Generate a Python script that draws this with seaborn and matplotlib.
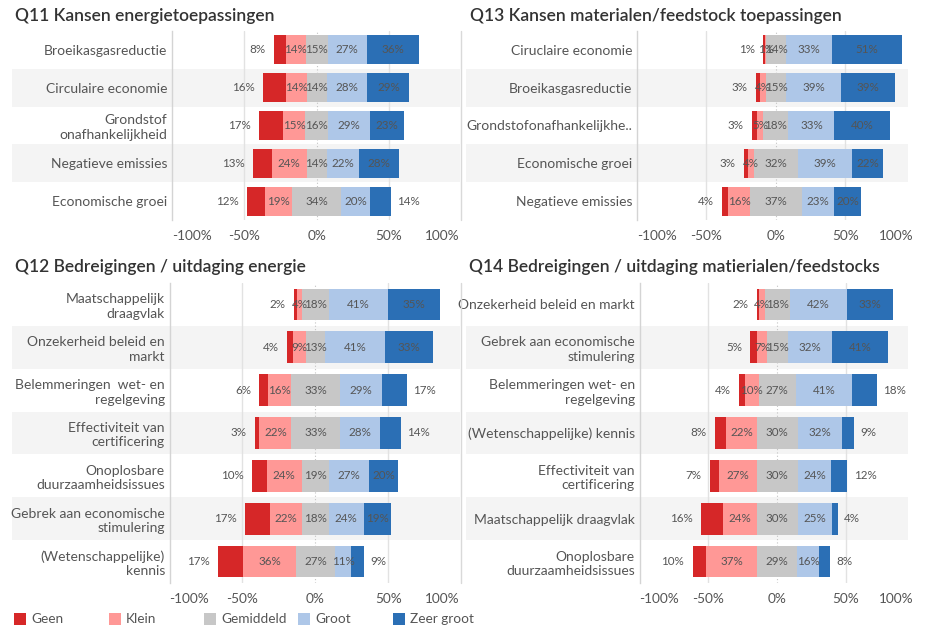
import matplotlib
matplotlib.use("Agg")
import matplotlib.pyplot as plt
import seaborn as sns
import pandas as pd
from matplotlib.patches import Rectangle
from matplotlib.lines import Line2D
from matplotlib.transforms import blended_transform_factory, ScaledTranslation

sns.set_theme(style="white")
plt.rcParams["font.family"] = ["Lato", "DejaVu Sans"]

W, H = 925, 630

levels = ["Geen", "Klein", "Gemiddeld", "Groot", "Zeer groot"]
level_colors = ["#d62728", "#ff9896", "#c7c7c7", "#aec7e8", "#2b6fb5"]
tick_values = [-100, -50, 0, 50, 100]

q11_title = "Q11 Kansen energietoepassingen"
q11_categories = ["Broeikasgasreductie", "Circulaire economie", "Grondstof\nonafhankelijkheid",
                  "Negatieve emissies", "Economische groei"]
q11_geen = [8, 16, 17, 13, 12]
q11_klein = [14, 14, 15, 24, 19]
q11_gemiddeld = [15, 14, 16, 14, 34]
q11_groot = [27, 28, 29, 22, 20]
q11_zeer_groot = [36, 29, 23, 28, 14]

q13_title = "Q13 Kansen materialen/feedstock toepassingen"
q13_categories = ["Ciruclaire economie", "Broeikasgasreductie", "Grondstofonafhankelijkhe..",
                  "Economische groei", "Negatieve emissies"]
q13_geen = [1, 3, 3, 3, 4]
q13_klein = [1, 4, 5, 4, 16]
q13_gemiddeld = [14, 15, 18, 32, 37]
q13_groot = [33, 39, 33, 39, 23]
q13_zeer_groot = [51, 39, 40, 22, 20]

q12_title = "Q12 Bedreigingen / uitdaging energie"
q12_categories = ["Maatschappelijk\ndraagvlak", "Onzekerheid beleid en\nmarkt",
                  "Belemmeringen  wet- en\nregelgeving", "Effectiviteit van\ncertificering",
                  "Onoplosbare\nduurzaamheidsissues", "Gebrek aan economische\nstimulering",
                  "(Wetenschappelijke)\nkennis"]
q12_geen = [2, 4, 6, 3, 10, 17, 17]
q12_klein = [4, 9, 16, 22, 24, 22, 36]
q12_gemiddeld = [18, 13, 33, 33, 19, 18, 27]
q12_groot = [41, 41, 29, 28, 27, 24, 11]
q12_zeer_groot = [35, 33, 17, 14, 20, 19, 9]

q14_title = "Q14 Bedreigingen / uitdaging matierialen/feedstocks"
q14_categories = ["Onzekerheid beleid en markt", "Gebrek aan economische\nstimulering",
                  "Belemmeringen wet- en\nregelgeving", "(Wetenschappelijke) kennis",
                  "Effectiviteit van\ncertificering", "Maatschappelijk draagvlak",
                  "Onoplosbare\nduurzaamheidsissues"]
q14_geen = [2, 5, 4, 8, 7, 16, 10]
q14_klein = [4, 7, 10, 22, 27, 24, 37]
q14_gemiddeld = [18, 15, 27, 30, 30, 30, 29]
q14_groot = [42, 32, 41, 32, 24, 25, 16]
q14_zeer_groot = [33, 41, 18, 9, 12, 4, 8]

TEXT = "#555555"
fig = plt.figure(figsize=(W / 100, H / 100), dpi=100)


def px_axes(x0, x1, y0, y1):
    return fig.add_axes([x0 / W, 1 - y1 / H, (x1 - x0) / W, (y1 - y0) / H])


def draw_panel(title, title_xy, box, band_left, xmax, bar_w, last_tick_shift,
               cats, geen, klein, gem, groot, zeer):
    x0, x1, y0, y1 = box
    ax = px_axes(x0, x1, y0, y1)
    ax.patch.set_visible(False)
    df = pd.DataFrame({"cat": cats, "geen": geen, "klein": klein, "gem": gem,
                       "groot": groot, "zeer": zeer})
    half = df["gem"] / 2
    df["left_geen"] = -(df["geen"] + df["klein"] + half)
    df["left_klein"] = -(df["klein"] + half)
    df["left_gem"] = -half
    df["right_gem"] = half
    df["right_groot"] = half + df["groot"]
    df["right_zeer"] = half + df["groot"] + df["zeer"]
    layers = [("left_geen", 0), ("left_klein", 1), ("left_gem", 2),
              ("right_zeer", 4), ("right_groot", 3), ("right_gem", 2)]
    for col, ci in layers:
        sns.barplot(data=df, x=col, y="cat", order=cats, orient="h",
                    color=level_colors[ci], saturation=1, width=bar_w,
                    linewidth=0, errorbar=None, ax=ax, zorder=2)
    for p in ax.patches:
        p.set_antialiased(False)
    n = len(cats)
    ax.set_ylim(n - 0.5, -0.5)
    ax.set_xlim(-100, xmax)
    ax.set_xlabel("")
    ax.set_ylabel("")

    # row banding (extends into label area)
    bt = blended_transform_factory(ax.transAxes, ax.transData)
    frac = (band_left - x0) / (x1 - x0)
    for i in range(n):
        if i % 2 == 1:
            ax.add_patch(Rectangle((frac, i - 0.5), 1 - frac, 1, transform=bt,
                                   facecolor="#f4f4f4", edgecolor="none",
                                   clip_on=False, zorder=0.2))
    # grid
    for v in (-50, 50):
        ax.axvline(v, color="#e2e2e2", lw=1.0, zorder=0.5)
    ax.axvline(0, color="#c4c4c4", lw=0.8, ls=(0, (1, 2)), zorder=0.5)
    for s in ("top", "right", "bottom"):
        ax.spines[s].set_visible(False)
    ax.spines["left"].set_color("#d4d4d4")
    ax.spines["left"].set_linewidth(1.0)

    # ticks (the 100% label sits at the right edge of the pane)
    shown = [v for v in tick_values if v < 100]
    ax.set_xticks(shown)
    ax.set_xticklabels([f"{v}%" for v in shown])
    ax.tick_params(axis="x", length=0, pad=7, labelsize=9.8, labelcolor=TEXT)
    ax.tick_params(axis="y", length=0, pad=3.3, labelsize=10, labelcolor=TEXT)
    ax.get_xticklabels()[0].set_ha("left")
    tr = ax.transAxes + ScaledTranslation(last_tick_shift / 100, -7 / 72, fig.dpi_scale_trans)
    ax.text(1, 0, f"{tick_values[-1]}%", transform=tr, ha="right", va="top",
            fontsize=9.8, color=TEXT, clip_on=False)
    for lbl in ax.get_yticklabels():
        lbl.set_linespacing(1.25)

    # value labels
    fs = 8.4
    for i, r in df.iterrows():
        ax.annotate(f"{r['geen']}%", (r["left_geen"], i), xytext=(-6, 0),
                    textcoords="offset points", ha="right", va="center",
                    fontsize=fs, color=TEXT, zorder=5)
        ax.text(-(r["klein"] / 2 + r["gem"] / 2), i, f"{r['klein']}%", ha="center",
                va="center", fontsize=fs, color=TEXT, zorder=5)
        ax.text(0, i, f"{r['gem']}%", ha="center", va="center", fontsize=fs,
                color=TEXT, zorder=5)
        ax.text(r["gem"] / 2 + r["groot"] / 2, i, f"{r['groot']}%", ha="center",
                va="center", fontsize=fs, color=TEXT, zorder=5)
        if r["zeer"] >= 19:
            ax.text(r["right_groot"] + r["zeer"] / 2, i, f"{r['zeer']}%", ha="center",
                    va="center", fontsize=fs, color=TEXT, zorder=5)
        else:
            ax.annotate(f"{r['zeer']}%", (r["right_zeer"], i), xytext=(4.5, 0),
                        textcoords="offset points", ha="left", va="center",
                        fontsize=fs, color=TEXT, zorder=5)

    fig.text(title_xy[0] / W, 1 - title_xy[1] / H, title, ha="left", va="center",
             fontsize=12.5, fontweight="semibold", color="#333333")
    return ax


draw_panel(q11_title, (15, 16), (172, 460, 31, 220), 12, 99, 0.77, 0,
           q11_categories, q11_geen, q11_klein, q11_gemiddeld, q11_groot, q11_zeer_groot)
draw_panel(q13_title, (470, 16), (637, 908, 31, 220), 466, 95, 0.77, 6,
           q13_categories, q13_geen, q13_klein, q13_gemiddeld, q13_groot, q13_zeer_groot)
draw_panel(q12_title, (15, 267), (169.5, 460, 283, 583), 12, 99, 0.74, 0,
           q12_categories, q12_geen, q12_klein, q12_gemiddeld, q12_groot, q12_zeer_groot)
draw_panel(q14_title, (469, 267), (639.5, 908, 283, 583), 466, 95, 0.74, 6,
           q14_categories, q14_geen, q14_klein, q14_gemiddeld, q14_groot, q14_zeer_groot)

# panel separators
for ya, yb in ((31, 220), (283, 583)):
    fig.add_artist(Line2D([460.5 / W] * 2, [1 - ya / H, 1 - yb / H], color="#d9d9d9", lw=1))

# legend
leg_x = [14, 109, 204, 298, 393]
for x, name, c in zip(leg_x, levels, level_colors):
    fig.add_artist(Rectangle((x / W, 1 - 625 / H), 12 / W, 12 / H, facecolor=c,
                             edgecolor="none", transform=fig.transFigure))
    fig.text((x + 17) / W, 1 - 619 / H, name, ha="left", va="center", fontsize=9.8, color=TEXT)

fig.savefig("out.png", dpi=100, facecolor="white")
